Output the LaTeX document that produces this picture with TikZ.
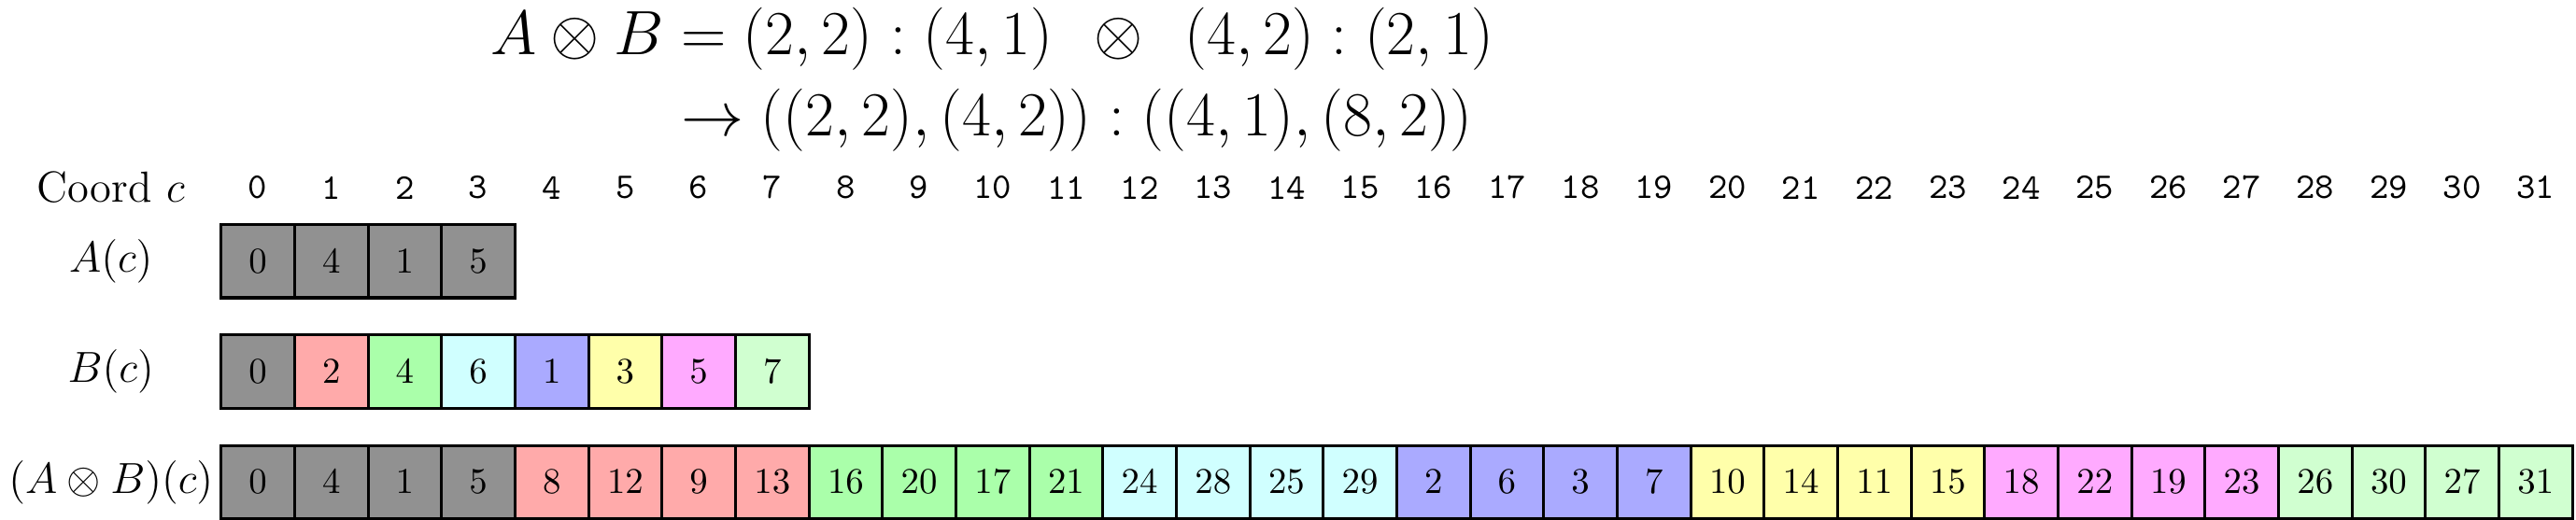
\documentclass[tikz,border=0pt]{standalone}
\usepackage{amsmath}
\usepackage{amssymb}
\usepackage{tikz}

\definecolor{cgray}{RGB}{145,145,145}
\definecolor{cred}{RGB}{255,170,170}
\definecolor{cgreen}{RGB}{170,255,170}
\definecolor{ccyan}{RGB}{208,255,255}
\definecolor{cblue}{RGB}{170,170,255}
\definecolor{cyellow}{RGB}{255,255,170}
\definecolor{cmagenta}{RGB}{255,170,255}
\definecolor{clgreen}{RGB}{208,255,208}

\tikzset{
  cell/.style={draw, thick, minimum size=0.712cm, inner sep=0pt},
  rowlabel/.style={font=\large, inner sep=0pt},
  coordnum/.style={font=\ttfamily, inner sep=0pt}
}

\begin{document}
\begin{tikzpicture}[x=0.712cm, y=0.712cm]
\useasboundingbox (-3.01, 0) rectangle (32.05, -7.08);
%\draw[help lines] (-3, 0) grid (32, -7);
\node[inner sep=0pt] (eq) at (10.5, -1.07) {\fontsize{17.7}{22.4}\selectfont \setlength{\jot}{0pt}$\begin{aligned}
	A \otimes B &= (2,2):(4,1) \;\,\otimes\;\, (4,2):(2,1) \\
	&\rightarrow ((2,2),(4,2)):((4,1),(8,2))
\end{aligned}$};

\node[rowlabel] (lc) at (-1.5, -2.555) {Coord $c$};
\node[rowlabel] (la) at (-1.5, -3.555) {$A(c)$};
\node[rowlabel] (lb) at (-1.5, -5.06) {$B(c)$};
\node[rowlabel] (lab) at (-1.5, -6.565) {$(A \otimes B)(c)$};

\foreach \i in {0,...,31}
	\node[coordnum] (c\i) at (\i+0.5, -2.555) {\i};

\foreach \v [count=\i from 0] in {0,4,1,5}
	\node[cell, fill=cgray] (a\i) at (\i+0.5, -3.555) {$\v$};

\foreach \v/\c [count=\i from 0] in {0/cgray, 2/cred, 4/cgreen, 6/ccyan,
	1/cblue, 3/cyellow, 5/cmagenta, 7/clgreen}
	\node[cell, fill=\c] (b\i) at (\i+0.5, -5.06) {$\v$};

\foreach \v/\c [count=\i from 0] in {0/cgray, 4/cgray, 1/cgray, 5/cgray,
	8/cred, 12/cred, 9/cred, 13/cred,
	16/cgreen, 20/cgreen, 17/cgreen, 21/cgreen,
	24/ccyan, 28/ccyan, 25/ccyan, 29/ccyan,
	2/cblue, 6/cblue, 3/cblue, 7/cblue,
	10/cyellow, 14/cyellow, 11/cyellow, 15/cyellow,
	18/cmagenta, 22/cmagenta, 19/cmagenta, 23/cmagenta,
	26/clgreen, 30/clgreen, 27/clgreen, 31/clgreen}
	\node[cell, fill=\c] (ab\i) at (\i+0.5, -6.565) {$\v$};
\end{tikzpicture}
\end{document}
